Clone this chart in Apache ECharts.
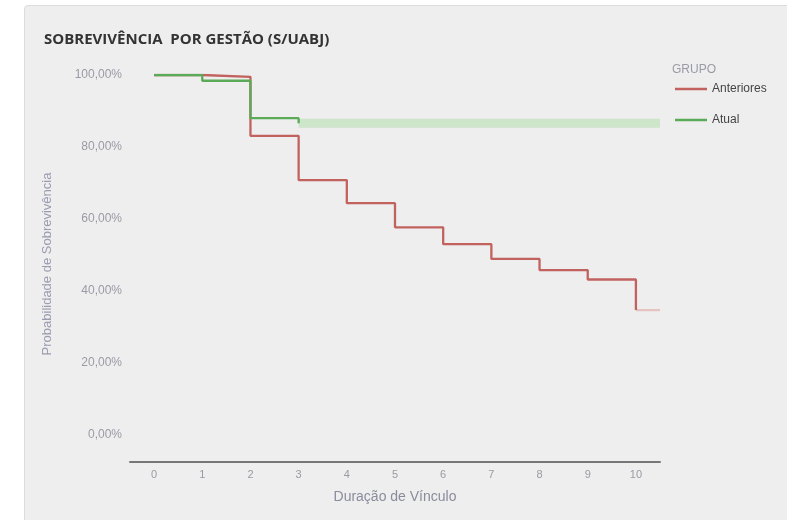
<!DOCTYPE html>
<html>
<head>
<meta charset="utf-8">
<script src="https://cdn.jsdelivr.net/npm/echarts@6/dist/echarts.min.js"></script>
<style>
  html, body { margin: 0; padding: 0; background: #ffffff; }
  #card {
    position: absolute; left: 24px; top: 5px; width: 770px; height: 530px;
    background: #eeeeee; border: 1px solid #dcdcdc; border-radius: 4px;
    box-sizing: border-box;
  }
  #chart { position: absolute; left: 0; top: 0; width: 787px; height: 520px; }
</style>
</head>
<body>
<div id="card"></div>
<div id="chart"></div>
<script>
// Duração de vínculo (anos)
const tempos = [0, 1, 2, 3, 4, 5, 6, 7, 8, 9, 10];
const ticksX = [0, 1, 2, 3, 4, 5, 6, 7, 8, 9, 10];
// Kaplan-Meier: probabilidade de sobrevivência (%)
const anteriores = [100, 99.5, 83.1, 70.8, 64.4, 57.7, 53.0, 48.9, 45.8, 43.2, 34.7];
const atualTempos = [0, 1, 2, 3];
const atual = [100, 98.4, 88.0, 86.6];
// prolongamento das curvas até o fim do eixo
const fimEixo = 10.5;
const ticksY = [0, 20, 40, 60, 80, 100];

const pares = (xs, ys) => xs.map((x, i) => [x, ys[i]]);

const chart = echarts.init(document.getElementById('chart'), null, { renderer: 'canvas' });

const corAnt = '#c2625f';
const corAtual = '#5aaa58';

chart.setOption({
  backgroundColor: 'transparent',
  animation: false,
  title: [
    {
      text: 'SOBREVIVÊNCIA  POR GESTÃO (S/UABJ)',
      left: 39, top: 27,
      textStyle: { fontFamily: 'Open Sans', fontWeight: 'bold', fontSize: 15, color: '#333333' }
    },
    {
      text: 'GRUPO',
      left: 667, top: 59,
      textStyle: { fontFamily: 'Liberation Sans', fontWeight: 'normal', fontSize: 12, color: '#9a9aa6' }
    }
  ],
  legend: {
    data: ['Anteriores', 'Atual'],
    orient: 'vertical',
    left: 675, top: 82, padding: 0,
    icon: 'rect',
    itemWidth: 32, itemHeight: 2.5, itemGap: 17,
    textStyle: { fontFamily: 'Liberation Sans', fontSize: 12, lineHeight: 14, color: '#444444', padding: [0, 0, 0, 0] }
  },
  grid: { left: 130, top: 75, width: 530, height: 360, containLabel: false },
  xAxis: {
    type: 'value',
    min: -0.5, max: fimEixo,
    offset: 27,
    name: 'Duração de Vínculo',
    nameLocation: 'middle',
    nameGap: 28,
    nameTextStyle: { fontFamily: 'Liberation Sans', fontSize: 14, color: '#8a8c9c' },
    axisLine: { show: true, onZero: false, lineStyle: { color: '#777777', width: 2 } },
    axisTick: { show: false },
    splitLine: { show: false },
    axisLabel: {
      customValues: ticksX,
      margin: 7,
      fontFamily: 'Liberation Sans', fontSize: 11, color: '#9a9aa6'
    }
  },
  yAxis: {
    type: 'value',
    min: ticksY[0], max: ticksY[ticksY.length - 1], interval: 20,
    name: 'Probabilidade de Sobrevivência',
    nameLocation: 'middle',
    nameGap: 76,
    nameTextStyle: { fontFamily: 'Liberation Sans', fontSize: 13, color: '#9a9cb0', padding: [0, 18, 0, 0] },
    axisLine: { show: false },
    axisTick: { show: false },
    splitLine: { show: false },
    axisLabel: {
      margin: 8,
      fontFamily: 'Liberation Sans', fontSize: 12, color: '#9a9aa6',
      formatter: v => v.toFixed(2).replace('.', ',') + '%'
    }
  },
  series: [
    {
      name: 'Anteriores',
      type: 'line', step: 'end', symbol: 'none',
      data: pares(tempos, anteriores),
      lineStyle: { color: corAnt, width: 2.3 },
      itemStyle: { color: corAnt },
      z: 2
    },
    {
      name: 'anteriores-fim',
      type: 'line', symbol: 'none',
      data: [[tempos[tempos.length - 1], anteriores[anteriores.length - 1]], [fimEixo, anteriores[anteriores.length - 1]]],
      lineStyle: { color: '#e6c3c2', width: 2.3 },
      z: 1
    },
    {
      name: 'atual-fim',
      type: 'line', symbol: 'none',
      data: [[atualTempos[atualTempos.length - 1], atual[atual.length - 1]], [fimEixo, atual[atual.length - 1]]],
      lineStyle: { color: '#cde5c9', width: 9, cap: 'butt' },
      z: 1
    },
    {
      name: 'Atual',
      type: 'line', step: 'end', symbol: 'none',
      data: pares(atualTempos, atual),
      lineStyle: { color: corAtual, width: 2.3 },
      itemStyle: { color: corAtual },
      z: 3
    }
  ]
});
</script>
</body>
</html>
